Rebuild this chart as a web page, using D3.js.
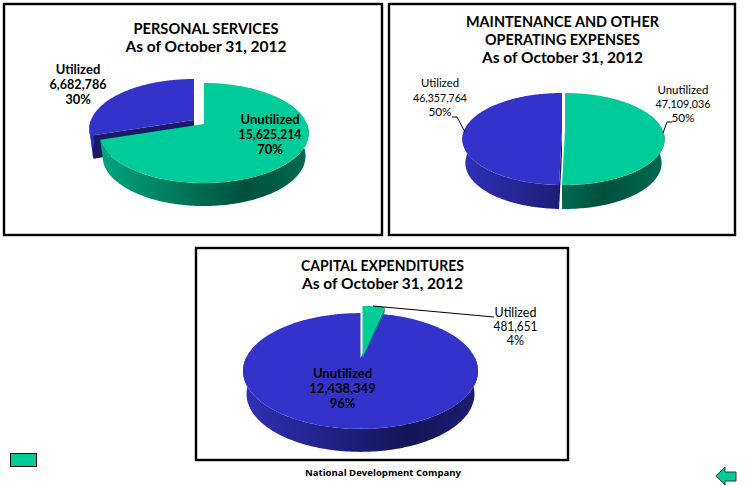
<!DOCTYPE html>
<html><head><meta charset="utf-8">
<style>html,body{margin:0;padding:0;background:#fff}svg{display:block}text{font-family:Lato,"Open Sans",sans-serif;fill:#000}</style>
<script src="https://cdn.jsdelivr.net/npm/d3@7"></script></head><body>
<svg id="c" width="747" height="486"></svg>
<script>
// ---- data ----
const personalCategories = ["Unutilized", "Utilized"];
const personalValues = [15625214, 6682786];
const personalPercents = ["70%", "30%"];
const maintenanceCategories = ["Unutilized", "Utilized"];
const maintenanceValues = [47109036, 46357764];
const maintenancePercents = ["50%", "50%"];
const capitalCategories = ["Utilized", "Unutilized"];
const capitalValues = [481651, 12438349];
const capitalPercents = ["4%", "96%"];
const personalTitle = ["PERSONAL SERVICES", "As of October 31, 2012"];
const maintenanceTitle = ["MAINTENANCE AND OTHER", "OPERATING EXPENSES", "As of October 31, 2012"];
const capitalTitle = ["CAPITAL EXPENDITURES", "As of October 31, 2012"];
const footer = "National Development Company";

// ---- presentation ----
const GREEN = {top:"#00CC99", stops:["#00a680","#00503c","#006a50"], cut:"#009470"};
const BLUE  = {top:"#3333CC", stops:["#3030b8","#141458","#1c1c74"], cut:"#1a1a66"};
const svg = d3.select("#c");
const defs = svg.append("defs");
const fmt = d3.format(",");
let gid = 0;

const charts = [
 {title:personalTitle, cats:personalCategories, vals:personalValues, pcts:personalPercents,
  box:[4,4,378,231], titleX:206, titleY:[34,52], titleSize:15.6, titleW:[145,161],
  cx:204, cy:124, rx:103, ry:48.4, k:0.18, depth:23,
  order:[1,0], skins:[GREEN,BLUE],
  offs:[{dx:0,dy:0,r:1,wx:1},{dx:-10,dy:-4,r:1,wx:1}],
  labels:[{x:270,y:[124,139,154],w:700,s:13,lw:[59,63,null]},{x:78,y:[74,89,104],w:700,s:13,lw:[null,57,null]}], leaders:[]},
 {title:maintenanceTitle, cats:maintenanceCategories, vals:maintenanceValues, pcts:maintenancePercents,
  box:[389,4,346,231], titleX:562.5, titleY:[27,44.5,63], titleSize:15.6, titleW:[193,155,161],
  cx:564, cy:130.7, rx:98, ry:44.5, k:0.18, depth:24,
  order:[1,0], skins:[GREEN,BLUE],
  offs:[{dx:1,dy:0,r:1,wx:1},{dx:-2,dy:0,r:1,wx:1}],
  labels:[{x:683,y:[94,108,122],w:400,s:11.8,lw:[51,55,null]},{x:440,y:[87,102,116],w:400,s:11.8,lw:[38,54,null]}],
  leaders:[[[672,122],[667,122],[663,133]],[[452,117],[457,117],[465,132]]]},
 {title:capitalTitle, cats:capitalCategories, vals:capitalValues, pcts:capitalPercents,
  box:[196,248,372,212], titleX:382.5, titleY:[271,289], titleSize:15.6, titleW:[163,161],
  cx:360.5, cy:358, rx:114.5, ry:55, k:0.224, depth:23,
  order:[1,0], skins:[GREEN,BLUE],
  offs:[{dx:2,dy:0,r:1.2,wx:0.88,cutDepth:5},{dx:0,dy:0,r:1,wx:1}],
  labels:[{x:515.5,y:[317,331,345],w:400,s:12.5,lw:[null,44,null]},{x:342.5,y:[378,393,408],w:700,s:13,lw:[null,null,null]}],
  leaders:[[[373,306],[494,317]]]}
];

const pieGen = d3.pie().sort(null).startAngle(0).endAngle(2*Math.PI);
const line = d3.line();
const TAPER = 0.03;

function fitted(sel, w){ if (w) sel.attr("textLength",w).attr("lengthAdjust","spacingAndGlyphs"); return sel; }

charts.forEach(ch => {
  svg.append("rect").attr("x",ch.box[0]).attr("y",ch.box[1]).attr("width",ch.box[2]).attr("height",ch.box[3])
     .attr("fill","#fff").attr("stroke","#000").attr("stroke-width",2.4);

  const arcs = pieGen(ch.vals);
  ch.order.forEach(i => {
    const a = arcs[i], skin = ch.skins[i], o = ch.offs[i];
    const proj = (th, r, z) => {
      const x = r*Math.sin(th), y = -r*Math.cos(th), s = 1/(1-ch.k*y);
      return [ch.cx+o.dx+ch.rx*o.wx*x*s*(1-TAPER*(z>0?1:0)), ch.cy+o.dy+ch.ry*y*s+z];
    };
    const angles = (a0,a1) => { const n=Math.max(2,Math.ceil((a1-a0)/0.02)); return d3.range(n+1).map(j=>a0+(a1-a0)*j/n); };
    const g = svg.append("g");
    const depth = o.cutDepth || ch.depth;

    // cut faces
    if (o.cutDepth) {
      const c = proj(a.endAngle,o.r,0);
      g.append("path").attr("fill",skin.cut)
       .attr("d", line([proj(0,0,0), c, [c[0],c[1]+depth]])+"Z");
    } else if (a.startAngle > Math.PI) {
      g.append("path").attr("fill",skin.cut)
       .attr("d", line([proj(0,0,0), proj(a.startAngle,o.r,0), proj(a.startAngle,o.r,ch.depth), proj(0,0,ch.depth)])+"Z");
    }
    // outer wall
    const lo = Math.max(a.startAngle, Math.PI/2), hi = Math.min(a.endAngle, 3*Math.PI/2);
    if (!o.cutDepth && hi > lo) {
      const th = angles(lo,hi);
      const id = "w"+(gid++);
      const grad = defs.append("linearGradient").attr("id",id).attr("gradientUnits","userSpaceOnUse")
        .attr("x1",ch.cx-ch.rx*1.02).attr("x2",ch.cx+ch.rx*1.02).attr("y1",0).attr("y2",0);
      [[0,skin.stops[0]],[0.7,skin.stops[1]],[1,skin.stops[2]]].forEach(s=>grad.append("stop").attr("offset",s[0]).attr("stop-color",s[1]));
      g.append("path").attr("fill",`url(#${id})`)
       .attr("d", line(th.map(t=>proj(t,o.r,0)).concat(th.slice().reverse().map(t=>proj(t,o.r,ch.depth))))+"Z");
    }
    // top face
    g.append("path").attr("fill",skin.top)
     .attr("d", line([proj(0,0,0)].concat(angles(a.startAngle,a.endAngle).map(t=>proj(t,o.r,0))))+"Z");
  });

  // leaders
  ch.leaders.forEach(l => svg.append("path").attr("d",line(l)).attr("fill","none").attr("stroke","#000").attr("stroke-width",1));

  // titles
  ch.title.forEach((t,i)=>fitted(svg.append("text").attr("x",ch.titleX).attr("y",ch.titleY[i]).attr("text-anchor","middle")
    .attr("font-size",ch.titleSize).attr("font-weight",700).text(t), ch.titleW[i]));

  // labels
  ch.cats.forEach((c,i)=>{
    const l = ch.labels[i];
    [c, fmt(ch.vals[i]), ch.pcts[i]].forEach((t,j)=>fitted(svg.append("text").attr("x",l.x).attr("y",l.y[j]).attr("text-anchor","middle")
      .attr("font-size",l.s).attr("font-weight",l.w).text(t), l.lw[j]));
  });
});

// footer and navigation shapes
svg.append("text").attr("x",383).attr("y",476).attr("text-anchor","middle").attr("font-size",9.6).attr("font-weight",700)
   .style("font-family","'Open Sans',sans-serif").text(footer);
svg.append("rect").attr("x",10.5).attr("y",453.5).attr("width",26).attr("height",13).attr("fill","#00CC99").attr("stroke","#000").attr("stroke-width",1);
svg.append("path").attr("d",line([[716,476],[725,467],[725,472],[736,472],[736,481],[725,481],[725,485]])+"Z")
   .attr("fill","#00CC99").attr("stroke","#333").attr("stroke-width",1);
</script></body></html>
